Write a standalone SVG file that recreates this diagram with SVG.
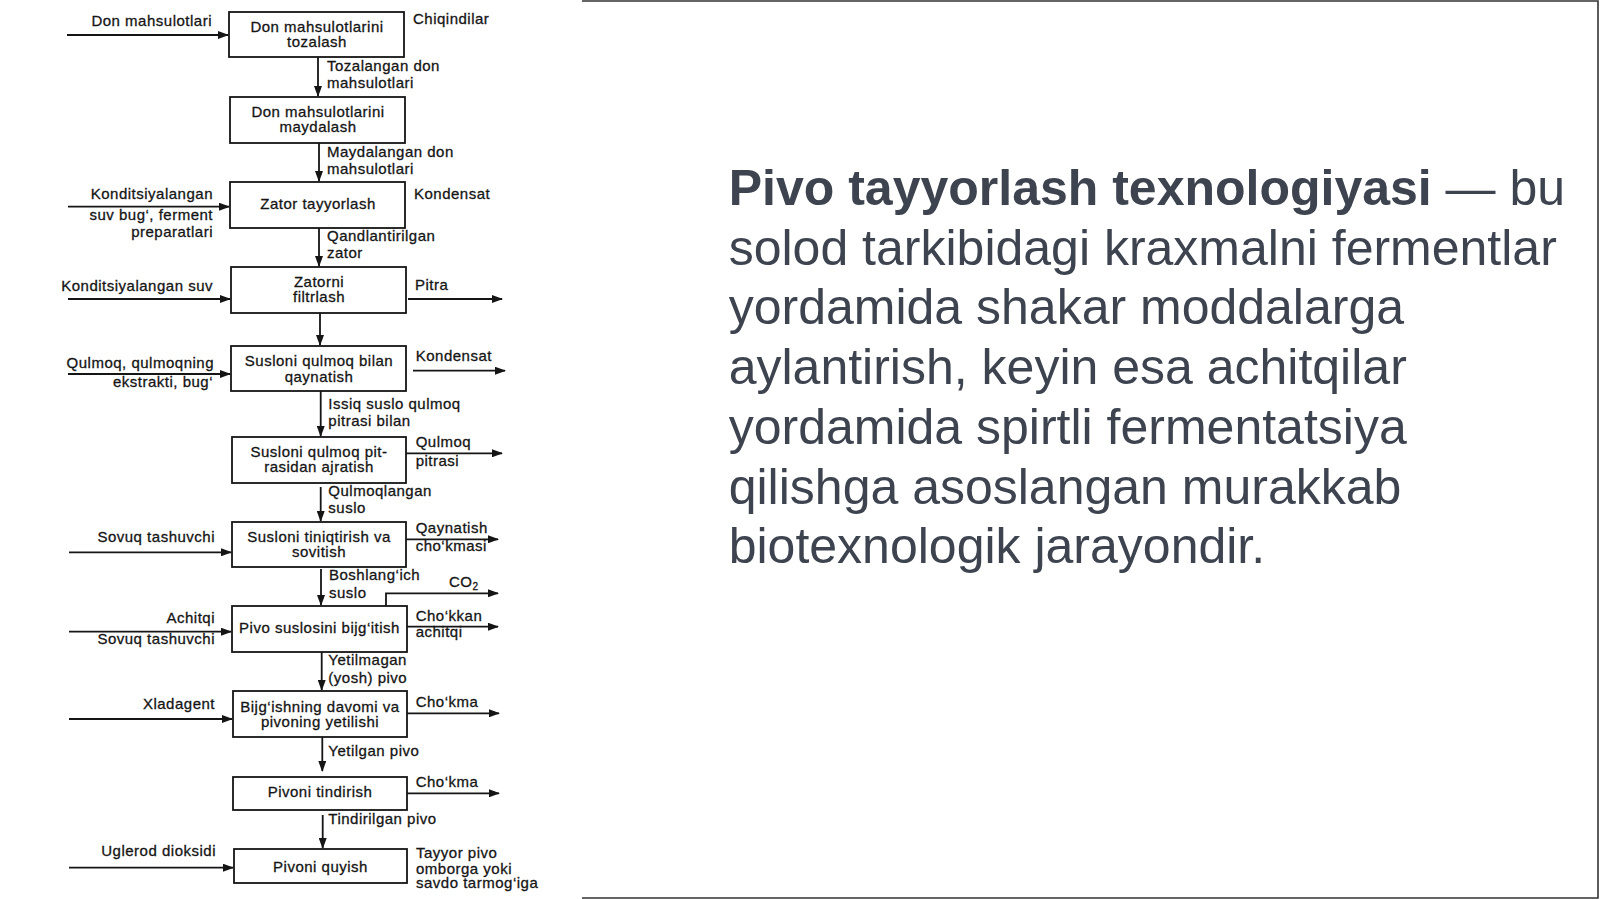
<svg xmlns="http://www.w3.org/2000/svg" width="1600" height="899" viewBox="0 0 1600 899">
<style>
.bx{fill:#fff;stroke:#151515;stroke-width:1.8}
.t{font-family:"Liberation Sans",Arial,sans-serif;font-size:15px;letter-spacing:0.5px;fill:#151515;stroke:#151515;stroke-width:0.3}
.m{text-anchor:middle}
.e{text-anchor:end}
.ln{fill:none;stroke:#151515;stroke-width:1.8}
.p{font-family:"Liberation Sans",Arial,sans-serif;font-size:50px;fill:#3d4450}
.frame{stroke:#333;stroke-width:1.6;fill:none}
</style>
<defs>
<marker id="ah" markerWidth="11" markerHeight="8" refX="10" refY="4" orient="auto" markerUnits="userSpaceOnUse">
<path d="M0,0 L11,4 L0,8 z" fill="#151515"/>
</marker>
</defs>
<rect width="1600" height="899" fill="#fff"/>
<path class="frame" d="M582 1 H1598 V898 H582"/>

<g id="connectors">
<path class="ln" d="M318 57 V96" marker-end="url(#ah)"/>
<path class="ln" d="M319 143 V181" marker-end="url(#ah)"/>
<path class="ln" d="M319 228 V266" marker-end="url(#ah)"/>
<path class="ln" d="M320 313 V345" marker-end="url(#ah)"/>
<path class="ln" d="M320.7 391 V436" marker-end="url(#ah)"/>
<path class="ln" d="M320.7 487 V521" marker-end="url(#ah)"/>
<path class="ln" d="M321 569 V605" marker-end="url(#ah)"/>
<path class="ln" d="M321.7 652 V690" marker-end="url(#ah)"/>
<path class="ln" d="M322.3 737 V771" marker-end="url(#ah)"/>
<path class="ln" d="M322.7 815 V848" marker-end="url(#ah)"/>
<path class="ln" d="M67 35 H228" marker-end="url(#ah)"/>
<path class="ln" d="M68 206.7 H229" marker-end="url(#ah)"/>
<path class="ln" d="M68 299 H230" marker-end="url(#ah)"/>
<path class="ln" d="M68 374 H230" marker-end="url(#ah)"/>
<path class="ln" d="M69 552.3 H231" marker-end="url(#ah)"/>
<path class="ln" d="M69 631.7 H231" marker-end="url(#ah)"/>
<path class="ln" d="M69 719 H232" marker-end="url(#ah)"/>
<path class="ln" d="M69 867.7 H233" marker-end="url(#ah)"/>
<path class="ln" d="M408 299 H502" marker-end="url(#ah)"/>
<path class="ln" d="M413 370.7 H505" marker-end="url(#ah)"/>
<path class="ln" d="M406 453.3 H502" marker-end="url(#ah)"/>
<path class="ln" d="M406 539.3 H498" marker-end="url(#ah)"/>
<path class="ln" d="M386 606 V593.3 H498" marker-end="url(#ah)"/>
<path class="ln" d="M407 626.7 H498" marker-end="url(#ah)"/>
<path class="ln" d="M407 713.3 H499" marker-end="url(#ah)"/>
<path class="ln" d="M407 793.3 H499" marker-end="url(#ah)"/>
</g>

<g id="n1"><rect class="bx" x="229" y="12" width="175" height="45"/>
<text class="t m" x="317" y="31.7">Don mahsulotlarini</text><text class="t m" x="317" y="46.7">tozalash</text></g>
<g id="n2"><rect class="bx" x="230" y="97" width="175" height="46"/>
<text class="t m" x="318" y="116.7">Don mahsulotlarini</text><text class="t m" x="318" y="132.3">maydalash</text></g>
<g id="n3"><rect class="bx" x="230" y="182" width="175" height="46"/>
<text class="t m" x="318" y="209.3">Zator tayyorlash</text></g>
<g id="n4"><rect class="bx" x="231" y="267" width="175" height="46"/>
<text class="t m" x="319" y="286.7">Zatorni</text><text class="t m" x="319" y="301.7">filtrlash</text></g>
<g id="n5"><rect class="bx" x="231" y="346" width="175" height="45"/>
<text class="t m" x="319" y="366">Susloni qulmoq bilan</text><text class="t m" x="319" y="381.7">qaynatish</text></g>
<g id="n6"><rect class="bx" x="232" y="437" width="174" height="46"/>
<text class="t m" x="319" y="456.7">Susloni qulmoq pit-</text><text class="t m" x="319" y="471.7">rasidan ajratish</text></g>
<g id="n7"><rect class="bx" x="232" y="522" width="174" height="45"/>
<text class="t m" x="319" y="541.7">Susloni tiniqtirish va</text><text class="t m" x="319" y="557.3">sovitish</text></g>
<g id="n8"><rect class="bx" x="232" y="606" width="175" height="46"/>
<text class="t m" x="319.5" y="633.3">Pivo suslosini bijg‘itish</text></g>
<g id="n9"><rect class="bx" x="233" y="691" width="174" height="46"/>
<text class="t m" x="320" y="711.7">Bijg‘ishning davomi va</text><text class="t m" x="320" y="727.3">pivoning yetilishi</text></g>
<g id="n10"><rect class="bx" x="233" y="777" width="174" height="33"/>
<text class="t m" x="320" y="797.3">Pivoni tindirish</text></g>
<g id="n11"><rect class="bx" x="234" y="849" width="173" height="34"/>
<text class="t m" x="320.5" y="871.7">Pivoni quyish</text></g>

<g id="labels">
<text class="t e" x="212" y="26">Don mahsulotlari</text>
<text class="t e" x="213" y="199.3">Konditsiyalangan</text>
<text class="t e" x="213" y="220">suv bug‘, ferment</text>
<text class="t e" x="213" y="237.3">preparatlari</text>
<text class="t e" x="213" y="290.7">Konditsiyalangan suv</text>
<text class="t e" x="214" y="368.3">Qulmoq, qulmoqning</text>
<text class="t e" x="213" y="387.3">ekstrakti, bug‘</text>
<text class="t e" x="215" y="541.7">Sovuq tashuvchi</text>
<text class="t e" x="215" y="622.7">Achitqi</text>
<text class="t e" x="215" y="644.3">Sovuq tashuvchi</text>
<text class="t e" x="215" y="709">Xladagent</text>
<text class="t e" x="216" y="856">Uglerod dioksidi</text>
<text class="t" x="413" y="24">Chiqindilar</text>
<text class="t" x="414" y="199">Kondensat</text>
<text class="t" x="415" y="290">Pitra</text>
<text class="t" x="415.7" y="360.7">Kondensat</text>
<text class="t" x="415.7" y="447.3">Qulmoq</text>
<text class="t" x="415.7" y="465.7">pitrasi</text>
<text class="t" x="415.7" y="533.3">Qaynatish</text>
<text class="t" x="415.7" y="550.7">cho‘kmasi</text>
<text class="t" x="449" y="587.3">CO<tspan font-size="10" dy="3">2</tspan></text>
<text class="t" x="415.7" y="620.7">Cho‘kkan</text>
<text class="t" x="415.7" y="637.3">achitqi</text>
<text class="t" x="415.7" y="707.3">Cho‘kma</text>
<text class="t" x="415.7" y="787.3">Cho‘kma</text>
<text class="t" x="416" y="857.7">Tayyor pivo</text>
<text class="t" x="416" y="874">omborga yoki</text>
<text class="t" x="416" y="888.3">savdo tarmog‘iga</text>
<text class="t" x="327" y="71">Tozalangan don</text>
<text class="t" x="327" y="87.7">mahsulotlari</text>
<text class="t" x="327" y="156.7">Maydalangan don</text>
<text class="t" x="327" y="174">mahsulotlari</text>
<text class="t" x="327" y="241">Qandlantirilgan</text>
<text class="t" x="327" y="258.3">zator</text>
<text class="t" x="328.3" y="409.3">Issiq suslo qulmoq</text>
<text class="t" x="328.3" y="426">pitrasi bilan</text>
<text class="t" x="328.3" y="496">Qulmoqlangan</text>
<text class="t" x="328.3" y="512.7">suslo</text>
<text class="t" x="329" y="580">Boshlang‘ich</text>
<text class="t" x="329" y="597.7">suslo</text>
<text class="t" x="328.3" y="665">Yetilmagan</text>
<text class="t" x="328.3" y="682.7">(yosh) pivo</text>
<text class="t" x="328.3" y="755.7">Yetilgan pivo</text>
<text class="t" x="328.3" y="824">Tindirilgan pivo</text>
</g>

<g id="description">
<text class="p" x="728.7" y="205"><tspan font-weight="bold">Pivo tayyorlash texnologiyasi</tspan> — bu</text>
<text class="p" x="728.7" y="264.7">solod tarkibidagi kraxmalni fermentlar</text>
<text class="p" x="728.7" y="324.4">yordamida shakar moddalarga</text>
<text class="p" x="728.7" y="384">aylantirish, keyin esa achitqilar</text>
<text class="p" x="728.7" y="443.8">yordamida spirtli fermentatsiya</text>
<text class="p" x="728.7" y="503.5">qilishga asoslangan murakkab</text>
<text class="p" x="728.7" y="563.2">biotexnologik jarayondir.</text>
</g>
</svg>
